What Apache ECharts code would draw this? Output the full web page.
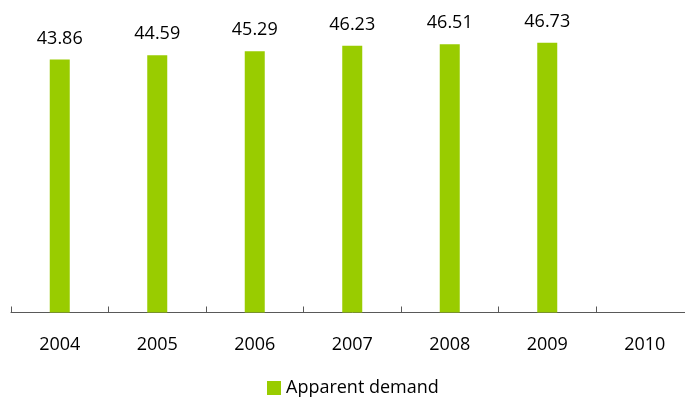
<!DOCTYPE html>
<html>
<head>
<meta charset="utf-8">
<script src="https://cdn.jsdelivr.net/npm/echarts@6/dist/echarts.min.js"></script>
<style>
  html, body { margin: 0; padding: 0; background: #ffffff; overflow: hidden; }
  /* the canvas is a little wider than the page so the last slot runs off the edge */
  #chart { width: 694px; height: 399px; }
</style>
</head>
<body>
<div id="chart"></div>
<script>
// Years on the category axis
var years = ['2004', '2005', '2006', '2007', '2008', '2009', '2010'];
// Apparent demand per year (no figure for 2010)
var apparentDemand = [43.86, 44.59, 45.29, 46.23, 46.51, 46.73, null];
var seriesName = 'Apparent demand';

var FONT = '"Open Sans", "Liberation Sans", sans-serif';
var chart = echarts.init(document.getElementById('chart'), null, { renderer: 'canvas' });

chart.setOption({
  animation: false,
  backgroundColor: '#ffffff',
  grid: { left: 11, width: 682.5, top: 24, bottom: 86.5, containLabel: false },
  legend: {
    data: [seriesName],
    left: 262,
    top: 374,
    icon: 'rect',
    itemWidth: 14,
    itemHeight: 14,
    itemGap: 10,
    textStyle: { fontFamily: FONT, fontSize: 18, color: '#000000' }
  },
  xAxis: {
    type: 'category',
    data: years,
    boundaryGap: true,
    axisLine: { show: true, lineStyle: { color: '#595959', width: 1 } },
    axisTick: { show: true, inside: true, length: 6, alignWithLabel: false, lineStyle: { color: '#595959' } },
    axisLabel: { interval: 0, margin: 23, fontFamily: FONT, fontSize: 18, color: '#000000' }
  },
  yAxis: {
    type: 'value',
    min: 0,
    max: 50,
    show: false,
    splitLine: { show: false }
  },
  series: [{
    name: seriesName,
    type: 'bar',
    data: apparentDemand,
    barWidth: 20,
    itemStyle: { color: '#99CC00' },
    label: {
      show: true,
      position: 'top',
      distance: 12,
      fontFamily: FONT,
      fontSize: 18,
      color: '#000000',
      formatter: function (p) { return p.value.toFixed(2); }
    }
  }]
});
</script>
</body>
</html>
